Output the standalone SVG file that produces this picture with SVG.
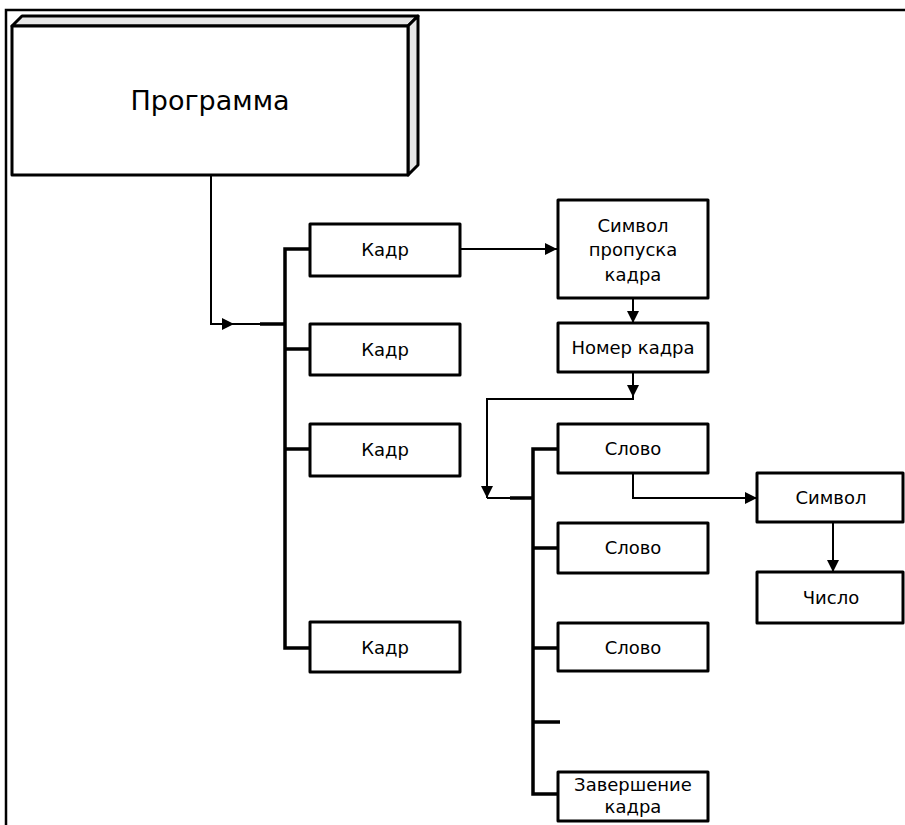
<svg xmlns="http://www.w3.org/2000/svg" width="905" height="825" viewBox="0 0 905 825">
<defs>
<style>
.box{fill:#fff;stroke:#000;stroke-width:3;stroke-linejoin:round}
.face{fill:#e6e6e6;stroke:#000;stroke-width:3;stroke-linejoin:round}
.t{font-family:"DejaVu Sans",Verdana,sans-serif;font-size:18px;fill:#000;text-anchor:middle}
.big{font-size:27px}
.ln{fill:none;stroke:#000;stroke-width:2}
.bus{fill:none;stroke:#000;stroke-width:3.5}
</style>
<marker id="ah" viewBox="0 0 12 12" refX="12" refY="6" markerWidth="12" markerHeight="12" markerUnits="userSpaceOnUse" orient="auto">
<path d="M0,0 L12,6 L0,12 Z" fill="#000"/>
</marker>
</defs>
<rect width="905" height="825" fill="#fff"/>
<g id="frame">
<path d="M6,825 V10 H905" fill="none" stroke="#000" stroke-width="2.5"/>
</g>
<g id="connectors">
<path class="ln" d="M211,175 V324 H234" marker-end="url(#ah)"/>
<path class="ln" d="M234,324 H262"/>
<path class="bus" d="M260,324 H285"/>
<path class="bus" d="M310,249 H285 V648 H310 M285,349 H310 M285,449 H310"/>
<path class="ln" d="M460,249 H557" marker-end="url(#ah)"/>
<path class="ln" d="M633,298 V323" marker-end="url(#ah)"/>
<path class="ln" d="M633,372 V397" marker-end="url(#ah)"/>
<path class="ln" d="M633,397 V399 H487 V498" marker-end="url(#ah)"/>
<path class="ln" d="M487,498 H512"/>
<path class="bus" d="M510,498 H533"/>
<path class="bus" d="M558,449 H533 V794 H558 M533,548 H558 M533,648 H558 M533,722 H560"/>
<path class="ln" d="M633,473 V498 H757" marker-end="url(#ah)"/>
<path class="ln" d="M833,522 V572" marker-end="url(#ah)"/>
</g>
<g id="programma">
<polygon class="face" points="12,26 22,16 418,16 408,26"/>
<polygon class="face" points="408,26 418,16 418,165 408,175"/>
<rect class="box" x="12" y="26" width="396" height="149"/>
<text class="t big" x="210" y="110">Программа</text>
</g>
<g id="kadr1"><rect class="box" x="310" y="224" width="150" height="52"/><text class="t" x="385" y="256">Кадр</text></g>
<g id="kadr2"><rect class="box" x="310" y="324" width="150" height="51"/><text class="t" x="385" y="356">Кадр</text></g>
<g id="kadr3"><rect class="box" x="310" y="424" width="150" height="52"/><text class="t" x="385" y="456">Кадр</text></g>
<g id="kadr4"><rect class="box" x="310" y="622" width="150" height="50"/><text class="t" x="385" y="654">Кадр</text></g>
<g id="simvol-propuska"><rect class="box" x="558" y="200" width="150" height="98"/>
<text class="t" x="633" y="232">Символ</text><text class="t" x="633" y="256">пропуска</text><text class="t" x="633" y="281">кадра</text></g>
<g id="nomer"><rect class="box" x="558" y="323" width="150" height="49"/><text class="t" x="633" y="354">Номер кадра</text></g>
<g id="slovo1"><rect class="box" x="558" y="424" width="150" height="49"/><text class="t" x="633" y="455">Слово</text></g>
<g id="slovo2"><rect class="box" x="558" y="523" width="150" height="50"/><text class="t" x="633" y="554">Слово</text></g>
<g id="slovo3"><rect class="box" x="558" y="623" width="150" height="48"/><text class="t" x="633" y="654">Слово</text></g>
<g id="zavershenie"><rect class="box" x="558" y="772" width="150" height="49"/>
<text class="t" x="633" y="791">Завершение</text><text class="t" x="633" y="813">кадра</text></g>
<g id="simvol"><rect class="box" x="757" y="473" width="146" height="49"/><text class="t" x="831" y="504">Символ</text></g>
<g id="chislo"><rect class="box" x="757" y="572" width="146" height="51"/><text class="t" x="831" y="604">Число</text></g>
</svg>
